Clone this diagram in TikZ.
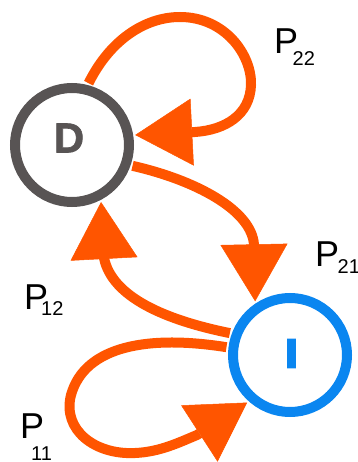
\documentclass[tikz,border=0pt]{standalone}
\usepackage{fontspec}
\usepackage{graphicx}
\setmainfont{Liberation Sans}
\newfontfamily\heavyfont{Liberation Sans}[UprightFont={* Bold},FakeBold=1.6]
\usetikzlibrary{arrows.meta}
\definecolor{arr}{HTML}{FF5500}
\definecolor{dgray}{HTML}{585454}
\definecolor{iblue}{HTML}{0A86F0}
\begin{document}
\begin{tikzpicture}[x=1pt,y=-1pt,
  state/.style={circle,line width=10pt,minimum size=114pt,inner sep=0pt,outer sep=7pt},
  letter/.style={font=\fontsize{42}{42}\heavyfont,inner sep=0pt},
  trans/.style={draw=arr,line width=10pt,-{Triangle[length=57pt,width=67pt,line width=0.5pt]}},
  pmain/.style={font=\fontsize{36}{36}\selectfont,inner sep=0pt,anchor=base west},
  psub/.style={font=\fontsize{20}{20}\selectfont,inner sep=0pt,anchor=base west}]
\useasboundingbox (0,0) rectangle (357,462);
\node[state,draw=dgray] (D) at (72,145) {};
\node[state,draw=iblue] (I) at (290,355) {};
\node[letter,text=dgray] (Dl) at (69,138) {D};
\node[letter,text=iblue] (Il) at (291.5,353.5) {\scalebox{1.3}[1]{I}};
% P22 self loop on D
\draw[trans] (D.75) .. controls (110,40) and (145,17) .. (180,17)
  .. controls (225,17) and (252,55) .. (251,85)
  .. controls (250,115) and (225,130) .. (195,132) -- (D.9);
% D -> I
\draw[trans] (D.-19) .. controls (195,180) and (252,210) .. (254,245) -- (I.123);
% I -> D
\draw[trans] (I.160) .. controls (165,320) and (112,297) .. (104,258) -- (D.-63);
% P11 self loop on I
\draw[trans] (I.173) .. controls (150,335) and (85,345) .. (71,395)
  .. controls (62,430) and (95,455) .. (135,453)
  .. controls (160,452) and (180,442) .. (197,435) -- (I.-132);
% labels
\node[pmain] (p22) at (274,54) {P};
\node[psub] (s22) at (292.5,66) {22};
\node[pmain] (p21) at (315,266) {P};
\node[psub] (s21) at (337.5,273) {21};
\node[pmain] (p12) at (24,309) {P};
\node[psub] (s12) at (41,315) {12};
\node[pmain] (p11) at (20,438) {P};
\node[psub] (s11) at (31,460) {11};
\end{tikzpicture}
\end{document}
